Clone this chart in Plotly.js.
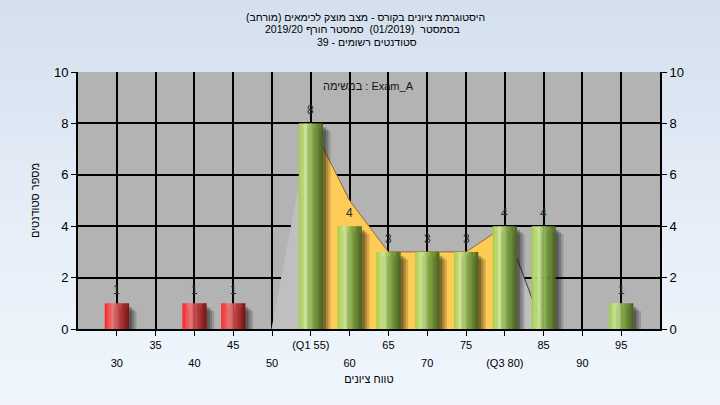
<!DOCTYPE html>
<html>
<head>
<meta charset="utf-8">
<script src="https://cdn.plot.ly/plotly-3.0.1.min.js"></script>
<style>
html,body{margin:0;padding:0;}
body{width:720px;height:405px;background:linear-gradient(to bottom,#d4e0ee 0%,#e6eef8 55%,#f0f6fc 100%);}
#chart{width:720px;height:405px;}
</style>
</head>
<body>
<div id="chart"></div>
<script>
// ---- data ----
const binCenters = [30, 35, 40, 45, 50, 55, 60, 65, 70, 75, 80, 85, 90, 95];
const counts     = [1,  0,  1,  1,  0,  8,  4,  3,  3,  3,  4,  4,  0,  1];
const tickVals   = [30, 35, 40, 45, 50, 55, 60, 65, 70, 75, 80, 85, 90, 95];
const tickText   = ['30','35','40','45','50','(Q1 55)','60','65','70','75','(Q3 80)','85','90','95'];
const curveX     = [50, 55, 60, 65, 70, 75, 80, 85];
const curveY     = [0,  8,  5,  3,  3,  3,  4,  0];
const q1 = 55, q3 = 80;
const failBelow = 55;
const titleLines = [
  'היסטוגרמת ציונים בקורס - מצב מוצק לכימאים (מורחב)',
  'בסמסטר  (01/2019)  סמסטר חורף 2019/20',
  'סטודנטים רשומים - 39'
];
const subtitle = 'במשימה : Exam_A';
const xTitle = 'טווח ציונים';
const yTitle = 'מספר סטודנטים';

// ---- styling helpers ----
const FONT = '"Liberation Sans", Arial, sans-serif';
const W = 3.1;      // bar width in x units
const N = 20;       // gradient slices
const greenStops = [[0,[160,204,66]],[0.27,[206,231,154]],[0.6,[128,166,70]],[1,[72,98,30]]];
const redStops   = [[0,[255,28,28]],[0.33,[236,122,122]],[0.62,[190,60,60]],[1,[122,16,16]]];
function interp(stops, t){
  for(let k=0;k<stops.length-1;k++){
    const a=stops[k], b=stops[k+1];
    if(t>=a[0] && t<=b[0]){
      const f=(t-a[0])/(b[0]-a[0]);
      const c=a[1].map((v,j)=>Math.round(v+(b[1][j]-v)*f));
      return 'rgb('+c.join(',')+')';
    }
  }
  return 'rgb('+stops[stops.length-1][1].join(',')+')';
}

const traces = [];

// area (behind bars) on x / y
const idx1 = curveX.indexOf(q1), idx3 = curveX.indexOf(q3);
traces.push({type:'scatter', x:curveX.slice(0,idx1+1), y:curveY.slice(0,idx1+1), xaxis:'x', yaxis:'y',
  mode:'lines', fill:'tozeroy', fillcolor:'#bfbfbf', line:{color:'#bfbfbf', width:1}, hoverinfo:'skip', showlegend:false});
traces.push({type:'scatter', x:curveX.slice(idx3), y:curveY.slice(idx3), xaxis:'x', yaxis:'y',
  mode:'lines', fill:'tozeroy', fillcolor:'#bfbfbf', line:{color:'#3a3a3a', width:1}, hoverinfo:'skip', showlegend:false});
traces.push({type:'scatter', x:curveX.slice(idx1,idx3+1), y:curveY.slice(idx1,idx3+1), xaxis:'x', yaxis:'y',
  mode:'lines', fill:'tozeroy', fillcolor:'#ffcb57', line:{color:'#8c6d2c', width:1}, hoverinfo:'skip', showlegend:false});

// dummy trace for lower label row axis
traces.push({type:'scatter', x:[binCenters[0]], y:[0], xaxis:'x2', yaxis:'y', mode:'markers',
  marker:{opacity:0}, hoverinfo:'skip', showlegend:false});

// shadows (bars on x / y2 overlay so they are drawn above the area)
const shadowLayers = [[1.0,0.30,'rgba(0,0,0,0.16)'],[0.7,0.22,'rgba(0,0,0,0.2)'],[0.4,0.15,'rgba(0,0,0,0.25)']];
shadowLayers.forEach(([shift,drop,col])=>{
  traces.push({type:'bar', x:binCenters, y:counts.map(c=>c>0?Math.max(c-drop,0):0), xaxis:'x', yaxis:'y2',
    width:W, offset:-W/2+shift, marker:{color:col, line:{width:0}}, hoverinfo:'skip', showlegend:false});
});

// gradient slices
for(let i=0;i<N;i++){
  const t=(i+0.5)/N;
  traces.push({type:'bar', x:binCenters, y:counts, xaxis:'x', yaxis:'y2',
    width:W/N+0.03, offset:-W/2+i*W/N,
    marker:{color:binCenters.map(b=>interp(b<failBelow?redStops:greenStops,t)), line:{width:0}},
    hoverinfo:'skip', showlegend:false});
}

const upperVals = tickVals.filter((v,i)=>i%2===1), upperText = tickText.filter((v,i)=>i%2===1);
const lowerVals = tickVals.filter((v,i)=>i%2===0), lowerText = tickText.filter((v,i)=>i%2===0);

const PB = 329, PH = 257;
function py(p){ return (PB-p)/PH; }
function px(p){ return (p-78)/582; }

const anns = [
  {text:titleLines[0], xp:365.5, yp:17},
  {text:titleLines[1], xp:362.5, yp:29.5},
  {text:titleLines[2], xp:366.5, yp:42}
].map(a=>({text:a.text, xref:'paper', yref:'paper', x:px(a.xp), y:py(a.yp), xanchor:'center', yanchor:'middle',
  showarrow:false, font:{family:FONT, size:10.5, color:'#000'}}));
anns.push({text:subtitle, xref:'paper', yref:'paper', x:px(368), y:py(86), xanchor:'center', yanchor:'middle',
  showarrow:false, font:{family:FONT, size:11, color:'#111'}});

// value labels above bars
binCenters.forEach((b,i)=>{
  if(counts[i]>0){
    anns.push({text:String(counts[i]), x:b, y:counts[i], xref:'x', yref:'y2', xanchor:'center', yanchor:'bottom',
      yshift:4, showarrow:false, font:{family:FONT, size:12, color:'#2a2a2a'}});
  }
});

const layout = {
  width:720, height:405,
  margin:{l:78, r:60, t:72, b:76, pad:0},
  paper_bgcolor:'rgba(0,0,0,0)',
  plot_bgcolor:'#b3b3b3',
  barmode:'overlay',
  font:{family:FONT, color:'#000'},
  showlegend:false,
  xaxis:{range:[25,100], tickmode:'array', tickvals:upperVals, ticktext:upperText,
    ticks:'outside', ticklen:5, tickcolor:'#000', tickwidth:1,
    showline:true, linecolor:'#000', linewidth:2,
    showgrid:true, gridcolor:'#000', gridwidth:2, zeroline:false,
    tickfont:{family:FONT, size:11, color:'#000'},
    minor:{tickvals:lowerVals, ticks:'outside', ticklen:5, tickcolor:'#000', tickwidth:1, showgrid:true, gridcolor:'#000', gridwidth:2}},
  xaxis2:{range:[25,100], overlaying:'x', side:'bottom', anchor:'y', tickmode:'array', tickvals:lowerVals, ticktext:lowerText,
    ticks:'', showline:false, showgrid:false, zeroline:false, ticklabelstandoff:26,
    tickfont:{family:FONT, size:11, color:'#000'},
    title:{text:xTitle, font:{family:FONT, size:11, color:'#000'}, standoff:7}},
  yaxis:{range:[0,10], dtick:2, tick0:0, ticks:'outside', ticklen:5, tickcolor:'#000', tickwidth:1,
    showline:true, linecolor:'#000', linewidth:2, showgrid:true, gridcolor:'#000', gridwidth:2, zeroline:false,
    tickfont:{family:FONT, size:13, color:'#000'},
    title:{text:yTitle, font:{family:FONT, size:11, color:'#000'}, standoff:12}},
  yaxis2:{range:[0,10], dtick:2, tick0:0, overlaying:'y', side:'right', anchor:'x', ticks:'outside', ticklen:5, tickcolor:'#000', tickwidth:1,
    showline:true, linecolor:'#000', linewidth:2, showgrid:false, zeroline:false,
    tickfont:{family:FONT, size:13, color:'#000'}},
  annotations:anns
};

Plotly.newPlot('chart', traces, layout, {displayModeBar:false, staticPlot:true});
</script>
</body>
</html>
